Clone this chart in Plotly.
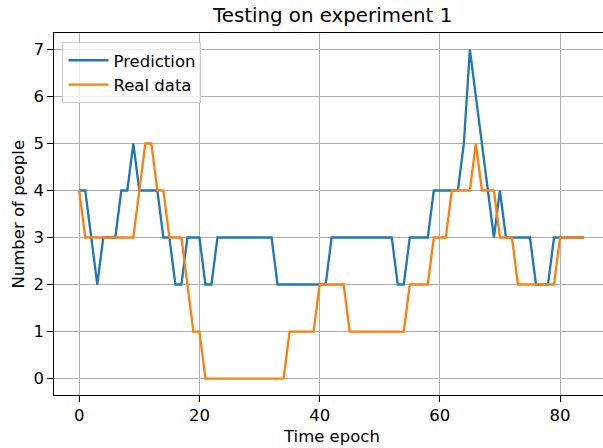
import plotly.graph_objects as go

epochs = list(range(85))

prediction = [4, 4, 3, 2, 3, 3, 3, 4, 4, 5,
              4, 4, 4, 4, 3, 3, 2, 2, 3, 3,
              3, 2, 2] + [3] * 10 + [2] * 9 + [3] * 11 + [2, 2] + [3] * 4 + [4] * 5 + \
             [5, 7, 6, 5, 4, 3, 4] + [3] * 5 + [2] * 3 + [3] * 6

real_data = [4] + [3] * 9 + [4, 5, 5, 4, 4, 3, 3, 3, 2, 1, 1] + [0] * 14 + [1] * 5 + \
            [2] * 5 + [1] * 10 + [2] * 4 + [3] * 3 + [4] * 4 + [5] + [4] * 3 + \
            [3] * 3 + [2] * 7 + [3] * 5

y_ticks = [0, 1, 2, 3, 4, 5, 6, 7]
x_ticks = [0, 20, 40, 60, 80]

W, H = 603, 448
L, T, B = 53.5, 33, 53
plot_w = W - L

def px_to_paper_x(px):
    return (px - L) / plot_w

def px_to_paper_y(py):
    return (H - B - py) / (H - B - T)

font = "DejaVu Sans"
FS = 16.5
FS_TITLE = 19.8

fig = go.Figure()
fig.add_trace(go.Scatter(x=epochs, y=prediction, mode="lines", name="Prediction",
                         line=dict(color="#1f77b4", width=2.3)))
fig.add_trace(go.Scatter(x=epochs, y=real_data, mode="lines", name="Real data",
                         line=dict(color="#ff7f0e", width=2.3)))

fig.update_layout(
    width=W, height=H,
    margin=dict(l=L, r=0, t=T, b=B, pad=0),
    paper_bgcolor="white", plot_bgcolor="white",
    font=dict(family=font, size=FS, color="black"),
    showlegend=True,
    legend=dict(x=px_to_paper_x(62), y=px_to_paper_y(42), xanchor="left", yanchor="top",
                bgcolor="rgba(255,255,255,0.8)", bordercolor="#cccccc", borderwidth=1,
                font=dict(family=font, size=FS, color="black"),
                tracegroupgap=0, itemwidth=40),
    xaxis=dict(range=[-4.2, (W - 79) / 6.0125], tickvals=x_ticks,
               showgrid=True, gridcolor="#b0b0b0", gridwidth=1.2,
               showline=True, linecolor="black", linewidth=1.2, mirror=True,
               ticks="outside", ticklen=5.5, tickwidth=1.2, tickcolor="black",
               zeroline=False, automargin=False, tickfont=dict(family=font, size=FS)),
    yaxis=dict(range=[-0.35, 7.35], tickvals=y_ticks,
               showgrid=True, gridcolor="#b0b0b0", gridwidth=1.2,
               showline=True, linecolor="black", linewidth=1.2, mirror=False,
               ticks="outside", ticklen=5.5, tickwidth=1.2, tickcolor="black",
               zeroline=False, automargin=False, tickfont=dict(family=font, size=FS)),
    annotations=[
        dict(text="Testing on experiment 1", x=px_to_paper_x(332), y=px_to_paper_y(16),
             xref="paper", yref="paper", showarrow=False, xanchor="center", yanchor="middle",
             borderpad=0, font=dict(family=font, size=FS_TITLE, color="black")),
        dict(text="Time epoch", x=px_to_paper_x(331), y=px_to_paper_y(436),
             xref="paper", yref="paper", showarrow=False, xanchor="center", yanchor="middle",
             borderpad=0, font=dict(family=font, size=FS, color="black")),
        dict(text="Number of people", x=px_to_paper_x(17), y=px_to_paper_y(214),
             xref="paper", yref="paper", showarrow=False, xanchor="center", yanchor="middle",
             borderpad=0, textangle=-90, font=dict(family=font, size=FS, color="black")),
    ],
)

# remove the page's default 8px body margin so the figure fills the window exactly
fig.write_html("out.html",
               config={"displayModeBar": False},
               post_script="document.body.style.margin='0';document.body.style.overflow='hidden';")
